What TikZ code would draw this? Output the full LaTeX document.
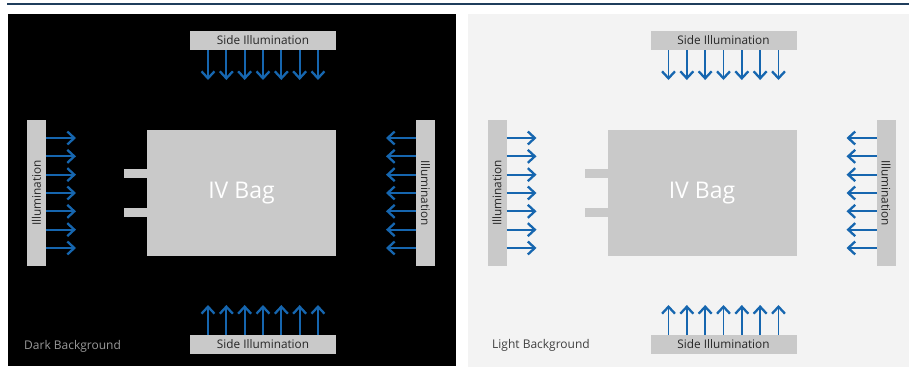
\documentclass[tikz,border=0pt]{standalone}
\usepackage{fontspec}
\setmainfont{Open Sans}
\usetikzlibrary{arrows.meta}
\definecolor{barg}{HTML}{C9C9C9}
\definecolor{arr}{HTML}{1666AF}
\definecolor{topline}{HTML}{1F3D5C}
\definecolor{lightbg}{HTML}{F3F3F3}
\definecolor{bartext}{HTML}{262626}
\tikzset{
  hbar/.style={fill=barg,draw=none,inner sep=0pt,minimum width=146pt,minimum height=19pt,
    font=\fontsize{11.8}{13}\selectfont,text=bartext},
  vbar/.style={hbar},
  bag/.style={fill=barg,draw=none,inner sep=0pt,minimum width=189pt,minimum height=126pt,
    font=\fontsize{23}{26}\selectfont,text=white},
  tab/.style={fill=barg,draw=none,inner sep=0pt,minimum width=24pt,minimum height=9pt},
  ray/.style={draw=arr,line width=1.8pt,-{Straight Barb[length=7pt,width=13pt,line width=2.3pt]}},
  bglabel/.style={inner sep=0pt,anchor=west,font=\fontsize{12}{14}\selectfont}
}
\newcommand\mypanel[1]{%
  \node[hbar] (#1top) at (263,40.5) {Side Illumination};
  \node[hbar] (#1bot) at (263,344.5) {Side Illumination};
  \node[vbar,rotate=90] (#1left) at (36.5,193) {Illumination};
  \node[vbar,rotate=-90] (#1right) at (425.5,193) {Illumination};
  \node[tab] (#1tabA) at (136,173.5) {};
  \node[tab] (#1tabB) at (136,212.5) {};
  \node[bag] (#1bag) at (241.5,193) {IV Bag};
  \foreach \i in {0,...,6} {
    \coordinate (#1ts\i) at (208+18.33*\i,50);
    \coordinate (#1td\i) at (208+18.33*\i,80);
    \draw[ray] (#1ts\i) -- (#1td\i);
    \coordinate (#1bs\i) at (208+18.33*\i,335);
    \coordinate (#1bu\i) at (208+18.33*\i,305);
    \draw[ray] (#1bs\i) -- (#1bu\i);
    \coordinate (#1ls\i) at (46,138+18.33*\i);
    \coordinate (#1lr\i) at (76,138+18.33*\i);
    \draw[ray] (#1ls\i) -- (#1lr\i);
    \coordinate (#1rs\i) at (416,138+18.33*\i);
    \coordinate (#1rl\i) at (386,138+18.33*\i);
    \draw[ray] (#1rs\i) -- (#1rl\i);
  }%
}
\begin{document}
\begin{tikzpicture}[x=1pt,y=-1pt]
  \useasboundingbox[fill=white] (0,0) rectangle (909,376);
  \draw[topline,line width=2.6pt] (7,4) -- (909,4);
  % dark panel
  \fill[black] (8,14) rectangle (456,366);
  \begin{scope}
    \mypanel{d}
  \end{scope}
  \node[bglabel,text=black!40] (dlabel) at (24,346) {Dark Background};
  % light panel
  \fill[lightbg] (468,14) rectangle (909,367);
  \begin{scope}[xshift=460.5pt]
    \mypanel{l}
    \node[bglabel,text=black!75] (llabel) at (31.5,345) {Light Background};
  \end{scope}
\end{tikzpicture}
\end{document}
